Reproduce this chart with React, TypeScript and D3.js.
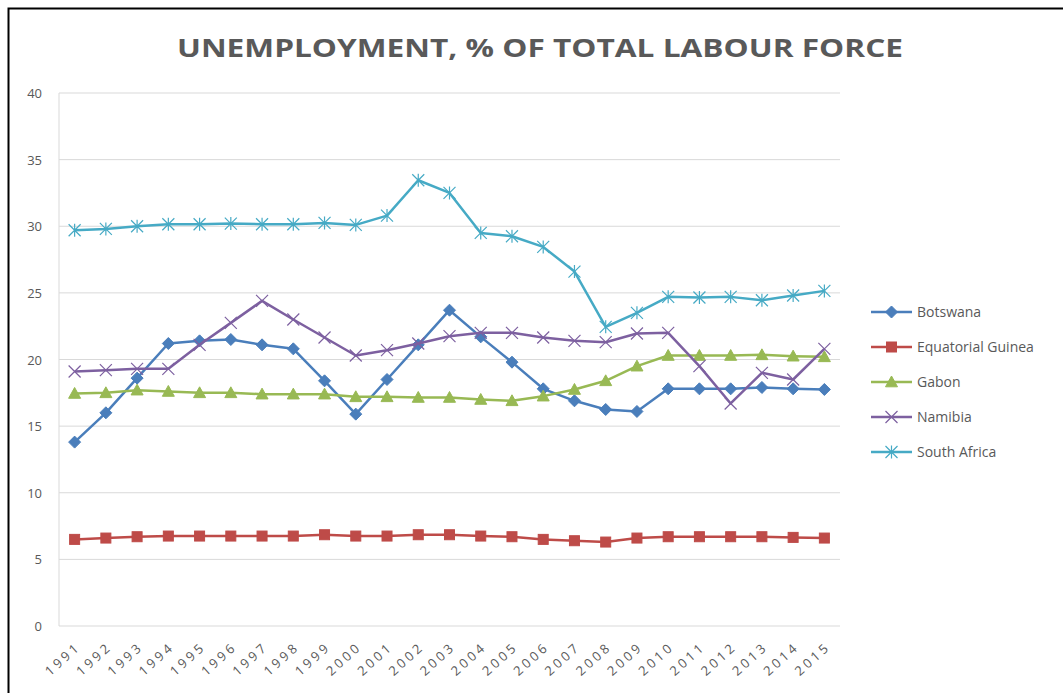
import React from "react";
import * as d3 from "d3";

const years = ["1991","1992","1993","1994","1995","1996","1997","1998","1999","2000","2001","2002","2003","2004","2005","2006","2007","2008","2009","2010","2011","2012","2013","2014","2015"];
const botswana = [13.8,16.0,18.6,21.2,21.4,21.5,21.1,20.8,18.4,15.9,18.5,21.1,23.7,21.7,19.8,17.8,16.9,16.25,16.1,17.8,17.8,17.8,17.9,17.8,17.75];
const eqGuinea = [6.5,6.6,6.7,6.75,6.75,6.75,6.75,6.75,6.85,6.75,6.75,6.85,6.85,6.75,6.7,6.5,6.4,6.3,6.6,6.7,6.7,6.7,6.7,6.65,6.6];
const gabon = [17.45,17.5,17.7,17.6,17.5,17.5,17.4,17.4,17.4,17.2,17.2,17.15,17.15,17.0,16.9,17.25,17.75,18.4,19.5,20.3,20.3,20.3,20.35,20.25,20.2];
const namibia = [19.1,19.2,19.3,19.3,21.1,22.75,24.4,23.0,21.65,20.3,20.7,21.2,21.75,22.0,22.0,21.65,21.4,21.3,21.95,22.0,19.5,16.7,19.0,18.5,20.8];
const southAfrica = [29.7,29.8,30.0,30.15,30.15,30.2,30.15,30.15,30.25,30.1,30.8,33.45,32.5,29.5,29.25,28.45,26.6,22.45,23.5,24.7,24.65,24.7,24.45,24.8,25.15];
const yTicks = [0,5,10,15,20,25,30,35,40];
const seriesNames = ["Botswana","Equatorial Guinea","Gabon","Namibia","South Africa"];
const seriesValues = [botswana, eqGuinea, gabon, namibia, southAfrica];
const colors = ["#4A7EBB","#BE4B48","#98B954","#7D60A0","#46AAC5"];
const markers = ["diamond","square","triangle","x","star"];

const W = 1063, H = 693;
const plot = { left: 59, right: 840, top: 93, bottom: 626 };
const textColor = "#595959";

function Marker({ type, x, y, color }: { type: string; x: number; y: number; color: string }) {
  if (type === "diamond") {
    const s = 6;
    return <path d={`M${x},${y - s}L${x + s},${y}L${x},${y + s}L${x - s},${y}Z`} fill={color} stroke={color} strokeWidth={1} />;
  }
  if (type === "square") {
    const s = 5;
    return <rect x={x - s} y={y - s} width={2 * s} height={2 * s} fill={color} stroke={color} strokeWidth={1} />;
  }
  if (type === "triangle") {
    const s = 6;
    return <path d={`M${x},${y - s}L${x + s},${y + s * 0.8}L${x - s},${y + s * 0.8}Z`} fill={color} stroke={color} strokeWidth={1} />;
  }
  if (type === "x") {
    const s = 6;
    return <path d={`M${x - s},${y - s}L${x + s},${y + s}M${x - s},${y + s}L${x + s},${y - s}`} stroke={color} strokeWidth={1.2} fill="none" />;
  }
  const s = 6;
  return <path d={`M${x - s},${y - s}L${x + s},${y + s}M${x - s},${y + s}L${x + s},${y - s}M${x},${y - s - 0.5}L${x},${y + s + 0.5}`} stroke={color} strokeWidth={1.2} fill="none" />;
}

export default function App() {
  const x = d3.scaleBand<string>().domain(years).range([plot.left, plot.right]);
  const y = d3.scaleLinear().domain([0, 40]).range([plot.bottom, plot.top]);
  const cx = (d: string) => (x(d) as number) + x.bandwidth() / 2;
  const line = d3.line<number>().x((_, i) => cx(years[i])).y((v) => y(v));

  return (
    <svg width={W} height={H} style={{ position: "absolute", left: 0, top: 0 }} fontFamily="'Open Sans', 'DejaVu Sans', sans-serif">
      <rect x={0} y={0} width={W} height={H} fill="#fff" />
      <rect x={8.5} y={8.5} width={W + 20} height={H + 20} fill="#fff" stroke="#000" strokeWidth={2} />
      <text x={540} y={57} textAnchor="middle" fontSize={25} fontWeight="bold" fill={textColor} textLength={726} lengthAdjust="spacingAndGlyphs" fontFamily="'Open Sans', sans-serif">UNEMPLOYMENT, % OF TOTAL LABOUR FORCE</text>
      {yTicks.map((t) => (
        <g key={t}>
          {t > 0 && <line x1={plot.left} x2={plot.right} y1={y(t)} y2={y(t)} stroke="#D9D9D9" strokeWidth={1} />}
          <text x={42} y={y(t) + 5} textAnchor="end" fontSize={13} fill={textColor}>{t}</text>
        </g>
      ))}
      <line x1={plot.left} x2={plot.left} y1={plot.top} y2={plot.bottom} stroke="#D9D9D9" strokeWidth={1} />
      <line x1={plot.left} x2={plot.right} y1={plot.bottom} y2={plot.bottom} stroke="#D9D9D9" strokeWidth={1} />
      {years.map((yr) => (
        <text key={yr} transform={`translate(${cx(yr) + 7},${plot.bottom + 22}) rotate(-42)`} textAnchor="end" fontSize={13} fill={textColor} letterSpacing={3.2}>{yr}</text>
      ))}
      {seriesValues.map((vals, si) => (
        <g key={seriesNames[si]}>
          <path d={line(vals) || ""} fill="none" stroke={colors[si]} strokeWidth={2.5} strokeLinejoin="round" />
          {vals.map((v, i) => (
            <Marker key={i} type={markers[si]} x={cx(years[i])} y={y(v)} color={colors[si]} />
          ))}
        </g>
      ))}
      {seriesNames.map((n, i) => {
        const ly = 312 + i * 35;
        return (
          <g key={n}>
            <line x1={871} x2={912} y1={ly} y2={ly} stroke={colors[i]} strokeWidth={2.5} />
            <Marker type={markers[i]} x={891.5} y={ly} color={colors[i]} />
            <text x={917} y={ly + 5} fontSize={14} fill={textColor}>{n}</text>
          </g>
        );
      })}
    </svg>
  );
}
